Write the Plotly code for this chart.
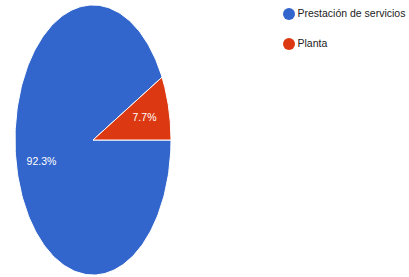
import numpy as np
import plotly.graph_objects as go

categories = ["Prestación de servicios", "Planta"]
values = [92.3, 7.7]
colors = ["#3366CC", "#DC3912"]

W, H = 409, 277
# pixel geometry of the (stretched) pie
cx_px, cy_px = 93, 140
rx_px, ry_px = 78, 135
x0 = -cx_px / rx_px
x1 = x0 + W / rx_px
y0 = -(H - cy_px) / ry_px
y1 = cy_px / ry_px

FONT = "Liberation Sans, Arial, sans-serif"

fig = go.Figure()

total = sum(values)
shares = [v / total * 360 for v in values]
# Planta from 0deg counter-clockwise, Prestación takes the rest
spans = {1: (0.0, shares[1]), 0: (shares[1], 360.0)}

for i in [0, 1]:
    a0, a1 = spans[i]
    th = np.radians(np.linspace(a0, a1, 240))
    xs = np.concatenate([[0], np.cos(th), [0]])
    ys = np.concatenate([[0], np.sin(th), [0]])
    fig.add_trace(go.Scatter(x=xs, y=ys, fill="toself", fillcolor=colors[i],
                             mode="lines", line=dict(color="white", width=1),
                             hoverinfo="skip", showlegend=False))

# slice labels
lr = 0.68
for i in [0, 1]:
    a0, a1 = spans[i]
    m = np.radians((a0 + a1) / 2)
    fig.add_trace(go.Scatter(x=[lr * np.cos(m)], y=[lr * np.sin(m)], mode="text",
                             text=[f"{values[i]:.1f}%"],
                             textfont=dict(family=FONT, size=10.5, color="white"),
                             hoverinfo="skip", showlegend=False))

# legend (manual)
leg_x_px = 289
leg_y_px = [14, 44]
lx = [x0 + leg_x_px / rx_px] * 2
ly = [y1 - p / ry_px for p in leg_y_px]
fig.add_trace(go.Scatter(x=lx, y=ly, mode="markers+text",
                         marker=dict(size=12, color=colors),
                         text=categories, textposition="middle right",
                         textfont=dict(family=FONT, size=10.5, color="#222222"),
                         hoverinfo="skip", showlegend=False))

fig.update_layout(width=W, height=H, margin=dict(l=0, r=0, t=0, b=0),
                  paper_bgcolor="white", plot_bgcolor="white", showlegend=False)
fig.update_xaxes(range=[x0, x1], visible=False, fixedrange=True)
fig.update_yaxes(range=[y0, y1], visible=False, fixedrange=True)
fig.write_html("out.html", config={"displayModeBar": False},
               post_script="document.body.style.margin='0';document.body.style.overflow='hidden';")
